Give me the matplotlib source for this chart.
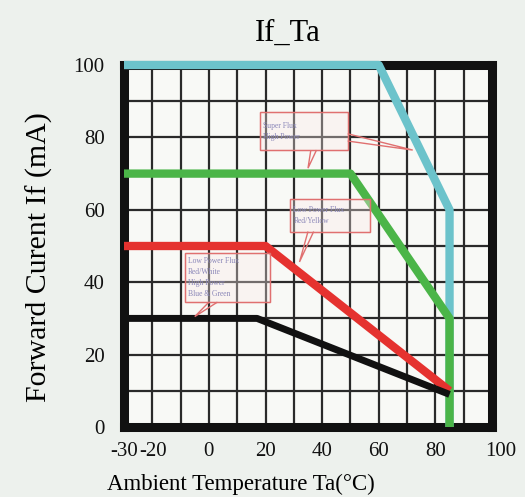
import matplotlib
matplotlib.use("Agg")
import matplotlib.pyplot as plt
from matplotlib.patches import Rectangle, Polygon
import matplotlib.transforms as mtransforms

plt.rcParams["axes.unicode_minus"] = False

# ---- data ----
cyan_x = [-30, 60, 85, 85]
cyan_y = [100, 100, 60, 0]
green_x = [-30, 50, 85, 85]
green_y = [70, 70, 30, 0]
red_x = [-30, 20, 85]
red_y = [50, 50, 10]
black_x = [-30, 17, 85]
black_y = [30, 30, 9]

xticks = [-30, -20, 0, 20, 40, 60, 80, 100]
yticks = [0, 20, 40, 60, 80, 100]
xgrid = list(range(-30, 101, 10))
ygrid = list(range(0, 101, 10))

title = "If_Ta"
xlabel = "Ambient Temperature Ta(°C)"
ylabel = "Forward Curent If (mA)"

note1 = "Super Flux\nHigh Power"
note2 = "Low Power Flux\nRed/Yellow"
note3 = "Low Power Flux\nRed/White\nHigh Power\nBlue & Green"

serif = ["Liberation Serif", "DejaVu Serif"]

fig = plt.figure(figsize=(5.25, 4.97), dpi=100)
fig.patch.set_facecolor("#edf1ed")
ax = fig.add_axes([124/525, 1-427/497, (492-124)/525, (427-65)/497])
ax.set_facecolor("#f8f9f6")
ax.set_xlim(-30, 100)
ax.set_ylim(0, 100)

for gx in xgrid:
    ax.axvline(gx, color="#2a2a2a", lw=1.6, zorder=1)
for gy in ygrid:
    ax.axhline(gy, color="#2a2a2a", lw=1.6, zorder=1)

lw = 6
ax.plot(cyan_x, cyan_y, color="#6cc3cb", lw=lw, solid_capstyle="butt", zorder=4, clip_on=False)
ax.plot(green_x, green_y, color="#4bb548", lw=lw, solid_capstyle="butt", zorder=5, clip_on=False)
ax.plot(red_x, red_y, color="#e5322f", lw=lw, solid_capstyle="butt", zorder=6, clip_on=False)
ax.plot(black_x, black_y, color="#111111", lw=5, solid_capstyle="butt", zorder=7, clip_on=False)

for s in ax.spines.values():
    s.set_linewidth(6.5)
    s.set_color("#111111")
    s.set_zorder(3)

ax.set_xticks(xticks)
ax.set_yticks(yticks)
ax.tick_params(length=0, labelsize=15, colors="#111111")
ax.tick_params(axis="y", pad=14)
ax.tick_params(axis="x", pad=11)
for lab in ax.get_xticklabels() + ax.get_yticklabels():
    lab.set_family(serif)
xl = ax.get_xticklabels()
def shift(lab, dx):
    lab.set_transform(lab.get_transform() + mtransforms.ScaledTranslation(dx/100, 0, fig.dpi_scale_trans))
shift(xl[0], 0)
shift(xl[1], 1)
shift(xl[-1], 9)

fig.text(288/525, 1-33/497, title, family=serif, fontsize=22, ha="center", va="center")
fig.text(241/525, 1-484/497, xlabel, family=serif, fontsize=16.5, ha="center", va="center")
fig.text(39/525, 1-257/497, ylabel, family=serif, fontsize=21.5, ha="center", va="center",
         rotation=90)

# callout boxes
ec = "#e07070"
def callout(txt, x0, x1, y0, y1, tails):
    ax.add_patch(Rectangle((x0, y0), x1-x0, y1-y0, fc="#fbe9ea", ec=ec, lw=1.0,
                           alpha=0.35, zorder=8))
    ax.add_patch(Rectangle((x0, y0), x1-x0, y1-y0, fill=False, ec=ec, lw=1.0, zorder=8))
    for (bx1, by1, bx2, by2, tx, ty) in tails:
        ax.add_patch(Polygon([(bx1, by1), (tx, ty), (bx2, by2)], closed=False, fill=False,
                             ec=ec, lw=1.0, zorder=8))
    ax.text(x0 + 1.2, (y0 + y1)/2, txt, fontsize=5.5, color="#8a86b8", family=serif,
            ha="left", va="center", zorder=9, linespacing=1.5)

callout(note1, 18, 49, 76.5, 87, [(49, 81, 49, 79, 72, 76.5), (36, 76.5, 38, 76.5, 35, 71.5)])
callout(note2, 28.6, 57, 54, 63, [(35, 54, 37, 54, 32, 45.6)])
callout(note3, -8.5, 21.6, 34.5, 48, [(0, 34.5, 3, 34.5, -5, 30.5)])

fig.savefig("out.png", dpi=100, facecolor=fig.get_facecolor())
